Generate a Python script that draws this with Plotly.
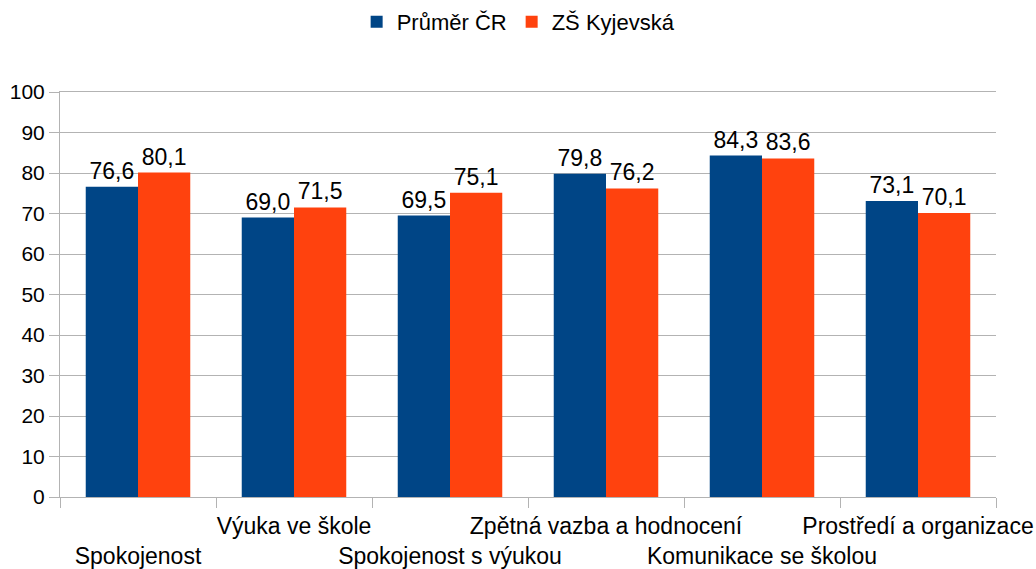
import plotly.graph_objects as go

categories = ["Spokojenost", "Výuka ve škole", "Spokojenost s výukou",
              "Zpětná vazba a hodnocení", "Komunikace se školou", "Prostředí a organizace"]
prumer_cr = [76.6, 69.0, 69.5, 79.8, 84.3, 73.1]
zs_kyjevska = [80.1, 71.5, 75.1, 76.2, 83.6, 70.1]
y_ticks = [0, 10, 20, 30, 40, 50, 60, 70, 80, 90, 100]

def fmt(v):
    return f"{v:.1f}".replace(".", ",")

tick_text = [("<br>" + c) if i % 2 == 0 else c for i, c in enumerate(categories)]

FONT = "Liberation Sans, Arial, sans-serif"
GRID = "#b3b3b3"

fig = go.Figure()
fig.add_trace(go.Bar(name="Průměr ČR", x=categories, y=prumer_cr,
                     marker=dict(color="#004586", line=dict(width=0)),
                     text=[fmt(v) for v in prumer_cr], textposition="outside",
                     textfont=dict(size=23, color="#000000", family=FONT),
                     cliponaxis=False))
fig.add_trace(go.Bar(name="ZŠ Kyjevská", x=categories, y=zs_kyjevska,
                     marker=dict(color="#ff420e", line=dict(width=0)),
                     text=[fmt(v) for v in zs_kyjevska], textposition="outside",
                     textfont=dict(size=23, color="#000000", family=FONT),
                     cliponaxis=False))

fig.update_layout(
    width=1036, height=569,
    margin=dict(l=60, r=40, t=92, b=72, autoexpand=False),
    paper_bgcolor="white", plot_bgcolor="white",
    font=dict(family=FONT, size=23, color="#000000"),
    barmode="group", bargap=0.33, bargroupgap=0,
    uniformtext=dict(mode=False),
    showlegend=True,
    legend=dict(orientation="h", x=0.49, xanchor="center", y=1.1728, yanchor="middle",
                yref="paper", font=dict(size=22), itemwidth=30,
                traceorder="normal"),
)
fig.update_xaxes(
    type="category", tickmode="array", tickvals=categories, ticktext=tick_text,
    tickson="boundaries", ticks="outside", ticklen=10, tickcolor=GRID,
    showline=True, linecolor=GRID, linewidth=1, mirror=True,
    showgrid=False, tickangle=0, tickfont=dict(size=23),
    ticklabelstandoff=8, automargin=False,
)
fig.update_yaxes(
    range=[0, 100], tickmode="array", tickvals=y_ticks,
    ticks="outside", ticklen=10, tickcolor=GRID,
    showgrid=True, gridcolor=GRID, gridwidth=1,
    showline=True, linecolor=GRID, linewidth=1,
    zeroline=False, tickfont=dict(size=21), automargin=False,
)

fig.write_html(
    "out.html",
    config={"displayModeBar": False},
    post_script="document.body.style.margin='0';document.body.style.overflow='hidden';",
)
